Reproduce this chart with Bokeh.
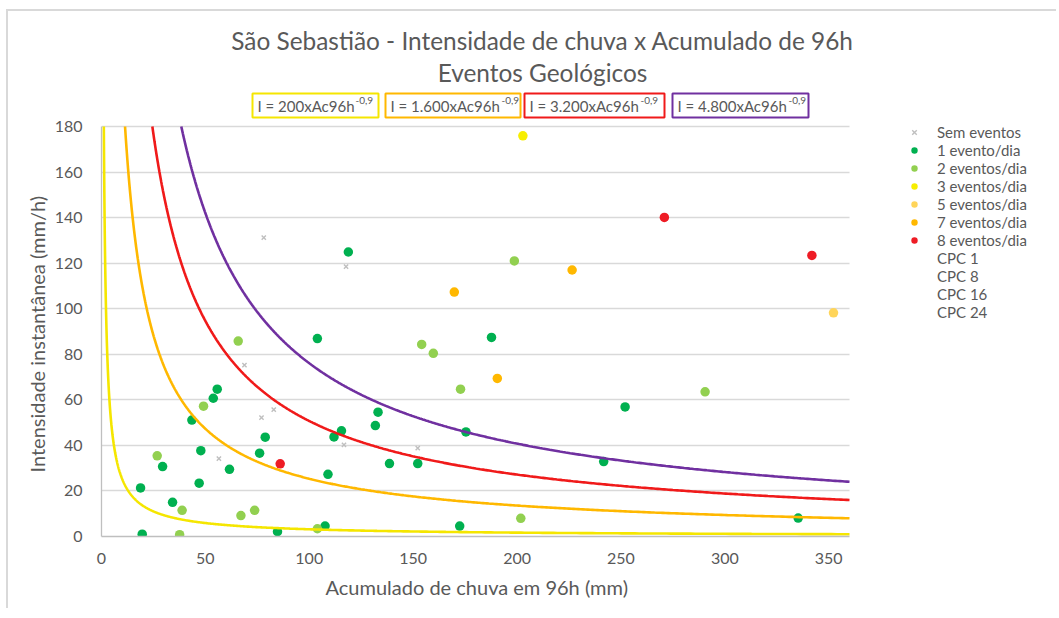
import numpy as np
from bokeh.plotting import figure
from bokeh.models import Label, Legend, LegendItem, FixedTicker, Range1d, Title
from bokeh.embed import file_html
from bokeh.resources import INLINE

# ---------------- data ----------------
sem_x = [78.1, 68.8, 77.0, 82.9, 56.5, 117.7, 116.7, 152.2]
sem_y = [131.2, 75.2, 52.2, 55.7, 34.2, 118.5, 40.2, 38.8]

e1_x = [55.7, 53.8, 43.5, 78.8, 76.1, 47.8, 29.4, 61.6, 18.8, 47.0, 34.2, 19.6, 84.7,
        118.8, 103.9, 187.7, 133.1, 131.8, 115.5, 111.9, 175.4, 138.6, 152.2, 109.0,
        172.4, 107.6, 252.0, 241.7, 335.3]
e1_y = [64.7, 60.7, 51.1, 43.6, 36.6, 37.7, 30.7, 29.5, 21.3, 23.4, 15.0, 1.0, 2.1,
        124.9, 86.9, 87.4, 54.6, 48.7, 46.4, 43.7, 45.9, 32.0, 32.0, 27.3,
        4.6, 4.6, 56.9, 32.9, 8.1]

e2_x = [65.8, 49.1, 26.8, 38.8, 67.1, 73.7, 37.6, 198.7, 154.1, 159.7, 172.8, 201.8, 103.9, 290.5]
e2_y = [85.8, 57.2, 35.4, 11.5, 9.2, 11.5, 0.8, 121.0, 84.3, 80.4, 64.7, 8.0, 3.4, 63.5]

e3_x = [202.8]
e3_y = [175.9]

e5_x = [352.3]
e5_y = [98.2]

e7_x = [226.5, 169.8, 190.5]
e7_y = [117.0, 107.3, 69.4]

e8_x = [86.0, 270.9, 341.9]
e8_y = [31.9, 140.1, 123.4]

cpc_names = ["CPC 1", "CPC 8", "CPC 16", "CPC 24"]
cpc_k = [200, 1600, 3200, 4800]
cpc_exp = -0.9
cpc_labels = ["I = 200xAc96h", "I = 1.600xAc96h", "I = 3.200xAc96h", "I = 4.800xAc96h"]
cpc_sup = "-0,9"

x_ticks = [0, 50, 100, 150, 200, 250, 300, 350]
y_ticks = [0, 20, 40, 60, 80, 100, 120, 140, 160, 180]
x_max, y_max = 360, 180

title1 = "São Sebastião - Intensidade de chuva x Acumulado de 96h"
title2 = "Eventos Geológicos"
x_title = "Acumulado de chuva em 96h (mm)"
y_title = "Intensidade instantânea (mm/h)"

# ---------------- style / layout ----------------
TXT = "#595959"
FONT = "Lato"
BORDER = "#d9d9d9"
GRID = "#d9d9d9"
cpc_colors = ["#f5e600", "#ffb800", "#f01a1a", "#7030a0"]
col_e1 = "#00b050"
col_e2 = "#92d050"
col_e3 = "#f7ee00"
col_e5 = "#ffd55a"
col_e7 = "#ffb800"
col_e8 = "#ee1c25"

# page-pixel geometry of the plot area (frame extends beyond it, to hold titles & legend)
CANVAS_X0, CANVAS_Y0 = 8, 11          # canvas origin on the page (after margin + border)
W, H = 1050, 599
AREA_L, AREA_R, AREA_T, AREA_B = 101, 849, 126, 536
SX = (AREA_R - AREA_L) / x_max
SY = (AREA_B - AREA_T) / y_max
FR_R = CANVAS_X0 + W
FR_T = CANVAS_Y0


def X(px):
    return (px - AREA_L) / SX


def Y(py):
    return (AREA_B - py) / SY


p = figure(width=W, height=H, x_range=Range1d(0, X(FR_R)), y_range=Range1d(0, Y(FR_T)),
           output_backend="svg", toolbar_location=None,
           min_border_left=AREA_L - CANVAS_X0, min_border_right=0, min_border_top=0,
           min_border_bottom=CANVAS_Y0 + H - AREA_B,
           background_fill_color="white", border_fill_color="white", outline_line_color=None,
           styles={"margin-left": "6px", "margin-top": "9px",
                   "border-left": "2px solid " + BORDER, "border-top": "2px solid " + BORDER})

p.xgrid.visible = False
yg = p.ygrid[0]
if "cross_bounds" in yg.properties():
    yg.grid_line_color = GRID
    yg.grid_line_width = 1.3
    yg.cross_bounds = (0, x_max)
    yg.bounds = (0, y_max)
else:
    yg.visible = False
    p.segment(x0=0, x1=x_max, y0=y_ticks, y1=y_ticks, line_color=GRID, line_width=1.3)

p.xaxis.ticker = FixedTicker(ticks=x_ticks)
p.yaxis.ticker = FixedTicker(ticks=y_ticks)
p.xaxis.bounds = (0, x_max)
p.yaxis.bounds = (0, y_max)
for ax in (p.xaxis, p.yaxis):
    ax.major_tick_line_color = None
    ax.minor_tick_line_color = None
    ax.axis_line_color = "#bfbfbf"
    ax.axis_line_width = 1.3
    ax.major_label_text_color = TXT
    ax.major_label_text_font = FONT
    ax.major_label_text_font_size = "16px"
p.xaxis.major_label_standoff = 10
p.yaxis.major_label_standoff = 13

# axis titles, centred on the plot area (not on the wider frame); offsets from frame start
XT_W, YT_W = 300, 282          # approx. rendered lengths of the axis titles at 20px
p.add_layout(Title(text=x_title, align="left", offset=(AREA_R - AREA_L) / 2 - XT_W / 2, standoff=12,
                   text_font=FONT, text_font_size="20px", text_font_style="normal",
                   text_color=TXT), "below")
p.add_layout(Title(text=y_title, align="left", offset=(AREA_B - AREA_T) / 2 - YT_W / 2, standoff=5,
                   text_font=FONT, text_font_size="20px", text_font_style="normal",
                   text_color=TXT), "left")

# points
r_sem = p.scatter(sem_x, sem_y, marker="x", size=6, line_color="#bfbfbf", line_width=1.4)
r1 = p.scatter(e1_x, e1_y, marker="circle", size=9.5, fill_color=col_e1, line_color=None)
r2 = p.scatter(e2_x, e2_y, marker="circle", size=9.5, fill_color=col_e2, line_color=None)
r3 = p.scatter(e3_x, e3_y, marker="circle", size=9.5, fill_color=col_e3, line_color=None)
r5 = p.scatter(e5_x, e5_y, marker="circle", size=9.5, fill_color=col_e5, line_color=None)
r7 = p.scatter(e7_x, e7_y, marker="circle", size=9.5, fill_color=col_e7, line_color=None)
r8 = p.scatter(e8_x, e8_y, marker="circle", size=9.5, fill_color=col_e8, line_color=None)

# CPC curves I = k * Ac^-0.9, kept inside the plot area (I <= 180, Ac <= 360)
for k, c in zip(cpc_k, cpc_colors):
    x0 = (k / y_max) ** (1.0 / -cpc_exp)
    xs = np.geomspace(x0, x_max, 700)
    p.line(xs, k * xs ** cpc_exp, line_color=c, line_width=2.6)

# invisible renderers for CPC legend entries
cpc_r = [p.scatter([], [], marker="circle", size=1, fill_alpha=0, line_alpha=0) for _ in cpc_names]

items = [LegendItem(label="Sem eventos", renderers=[r_sem]),
         LegendItem(label="1 evento/dia", renderers=[r1]),
         LegendItem(label="2 eventos/dia", renderers=[r2]),
         LegendItem(label="3 eventos/dia", renderers=[r3]),
         LegendItem(label="5 eventos/dia", renderers=[r5]),
         LegendItem(label="7 eventos/dia", renderers=[r7]),
         LegendItem(label="8 eventos/dia", renderers=[r8])]
items += [LegendItem(label=n, renderers=[r]) for n, r in zip(cpc_names, cpc_r)]

legend = Legend(items=items, location=(906 - AREA_L, AREA_B - 321), padding=0, margin=0, spacing=0,
                glyph_width=16, glyph_height=18, label_height=18, label_standoff=15,
                label_text_font=FONT, label_text_font_size="15px", label_text_color=TXT,
                border_line_color=None, background_fill_alpha=0)
p.add_layout(legend, "center")

# titles
p.add_layout(Label(x=X(542), y=Y(40), text=title1, text_align="center", text_baseline="middle",
                   text_font=FONT, text_font_size="24.4px", text_color=TXT))
p.add_layout(Label(x=X(542), y=Y(72), text=title2, text_align="center", text_baseline="middle",
                   text_font=FONT, text_font_size="24.4px", text_color=TXT))

# formula boxes (page pixels -> data)
box_l = [252, 385, 524, 672]
box_r = [378, 520, 664, 808]
main_w = [96.5, 109.5, 109.5, 109.5]   # approx. rendered width of the main text at 15px
box_t, box_b = 93.0, 117.0
p.quad(left=[X(v) for v in box_l], right=[X(v) for v in box_r], top=Y(box_t), bottom=Y(box_b),
       fill_color="white", line_color=cpc_colors, line_width=2)
for l, r, w, txt in zip(box_l, box_r, main_w, cpc_labels):
    p.add_layout(Label(x=X(l + 5), y=Y(105.5), text=txt, text_align="left", text_baseline="middle",
                       text_font=FONT, text_font_size="15px", text_color=TXT))
    p.add_layout(Label(x=X(l + 5 + w + 1.5), y=Y(100), text=cpc_sup, text_align="left",
                       text_baseline="middle", text_font=FONT, text_font_size="10px", text_color=TXT))

open("out.html", "w").write(file_html(p, INLINE))
